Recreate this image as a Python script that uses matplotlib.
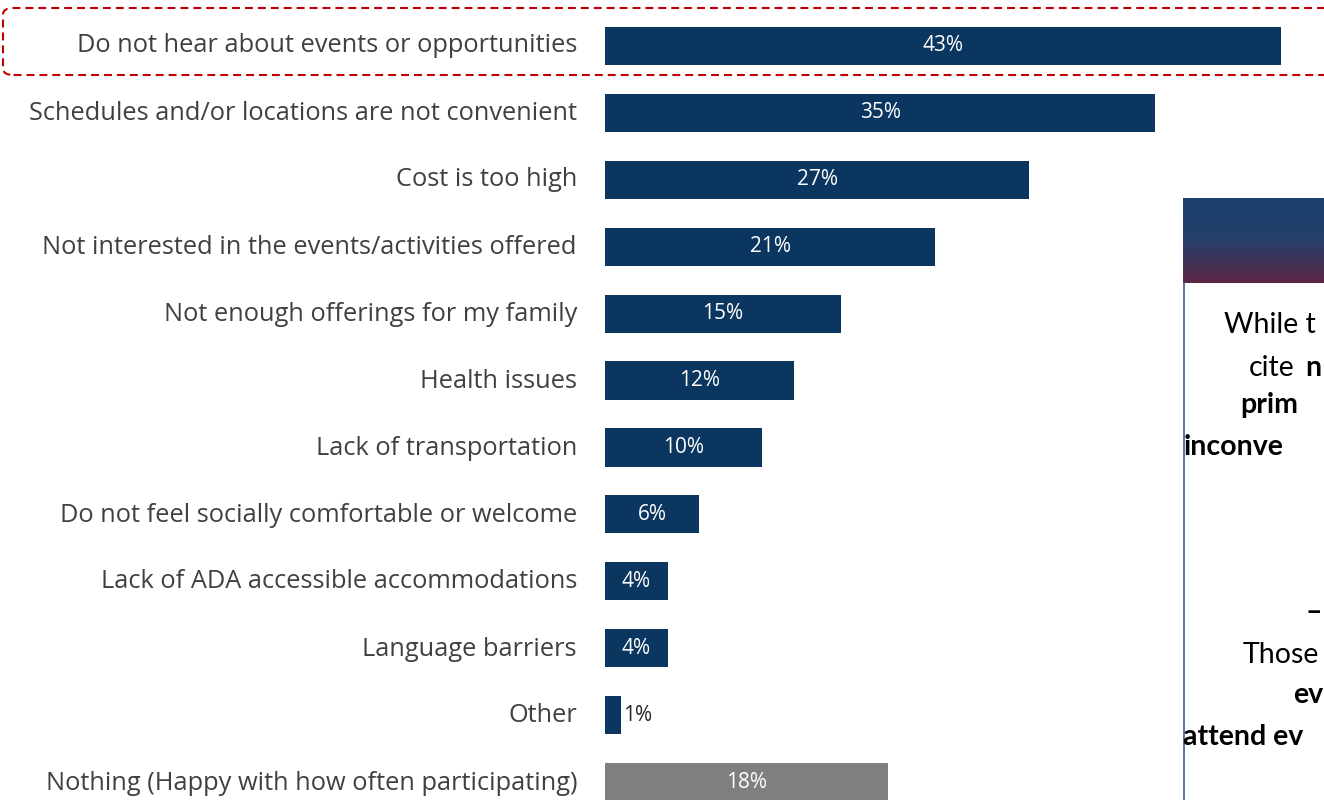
import matplotlib
matplotlib.use("Agg")
import matplotlib.pyplot as plt
import numpy as np
from matplotlib.patches import FancyBboxPatch
from matplotlib.colors import LinearSegmentedColormap

categories = [
    "Do not hear about events or opportunities",
    "Schedules and/or locations are not convenient",
    "Cost is too high",
    "Not interested in the events/activities offered",
    "Not enough offerings for my family",
    "Health issues",
    "Lack of transportation",
    "Do not feel socially comfortable or welcome",
    "Lack of ADA accessible accommodations",
    "Language barriers",
    "Other",
    "Nothing (Happy with how often participating)",
]
values = [43, 35, 27, 21, 15, 12, 10, 6, 4, 4, 1, 18]
value_labels = ["43%", "35%", "27%", "21%", "15%", "12%", "10%", "6%", "4%", "4%", "1%", "18%"]

FONT = "Open Sans"
PFONT = "Lato"
W, H = 1324, 800
fig = plt.figure(figsize=(W / 100, H / 100), dpi=100)

def fx(px):
    return px / W

def fy(py):
    return 1 - py / H

# axes: x from 605px to 1324px ; 15.72 px per %
x0, x1 = 605, 1324
ppu = 676 / 43.0
ax = fig.add_axes([fx(x0), 0, fx(x1 - x0), 1])
ax.set_xlim(0, (x1 - x0) / ppu)
row_px = 67.0
top_row = -46 / row_px
bot_row = 11 + (H - 782) / row_px
ax.set_ylim(bot_row, top_row)
ax.axis("off")

ypos = np.arange(len(categories))
colors = ["#0b3660"] * 11 + ["#7f7f7f"]
ax.barh(ypos, values, height=0.57, color=colors, edgecolor="none")

for i, (v, lab) in enumerate(zip(values, value_labels)):
    if v < 2:
        ax.text(v + 0.12, i, lab, ha="left", va="center", color="#262626",
                fontsize=15, family=FONT)
    else:
        ax.text(v / 2, i, lab, ha="center", va="center", color="white",
                fontsize=15, family=FONT)

# category labels
for i, c in enumerate(categories):
    ax.text(fx(577), fy(46 + i * row_px), c, transform=fig.transFigure,
            ha="right", va="center", color="#404040", fontsize=18.3, family=FONT)

# dashed red highlight box
box = FancyBboxPatch((fx(3), fy(75)), fx(1340 - 3), fy(8) - fy(75),
                     boxstyle="round,pad=0,rounding_size=0.008",
                     transform=fig.transFigure, fill=False, edgecolor="#c00000",
                     linestyle=(0, (3.8, 2.4)), linewidth=1.5, clip_on=False)
fig.patches.append(box)

# right panel: gradient header
grad_ax = fig.add_axes([fx(1183), fy(283), fx(1324 - 1183), fy(198) - fy(283)])
grad = np.linspace(0, 1, 100).reshape(-1, 1)
cmap = LinearSegmentedColormap.from_list("g", ["#1b3f6d", "#26406b", "#5c2643"])
grad_ax.imshow(grad, aspect="auto", cmap=cmap, extent=[0, 1, 0, 1], origin="upper")
grad_ax.axis("off")

# panel border
fig.add_artist(plt.Line2D([fx(1183.5), fx(1183.5)], [fy(283), fy(800)],
                          color="#3a5f8f", linewidth=1.2))

# visible fragments of panel text
ptxt = [
    (1224, 325, "While t", "normal"),
    (1249, 368, "cite", "normal"),
    (1305, 368, "n", "bold"),
    (1240, 405, "prim", "bold"),
    (1184, 447, "inconve", "bold"),
    (1306, 612, "\u2013", "bold"),
    (1243, 655, "Those", "normal"),
    (1293, 695, "ev", "bold"),
    (1183, 737, "attend ev", "bold"),
]
for px, py, t, w in ptxt:
    fig.text(fx(px), fy(py), t, ha="left", va="center", fontsize=20.5,
             fontweight=w, color="black", family=PFONT)

fig.savefig("out.png", dpi=100)
